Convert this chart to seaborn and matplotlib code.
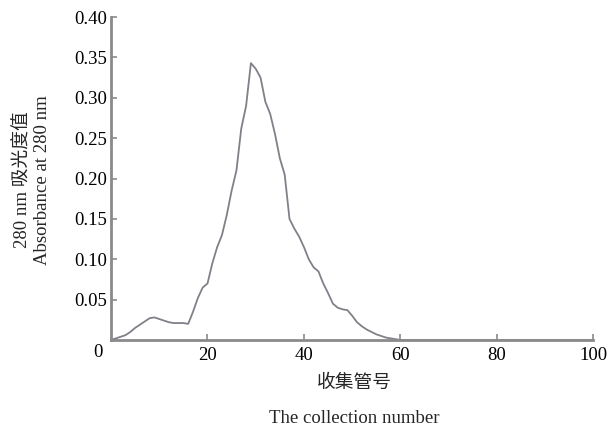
import numpy as np
import pandas as pd
import matplotlib
matplotlib.use('Agg')
import matplotlib.pyplot as plt
import matplotlib.transforms as mtransforms
import seaborn as sns

# Tube number and absorbance
tubes = list(range(0, 61)) + [100]
absorbance = [0.000, 0.002, 0.004, 0.006, 0.010, 0.015, 0.019, 0.023, 0.027, 0.028,
              0.026, 0.024, 0.022, 0.021, 0.021, 0.021, 0.020, 0.035, 0.052, 0.065,
              0.070, 0.095, 0.115, 0.130, 0.155, 0.185, 0.210, 0.262, 0.290, 0.343,
              0.336, 0.325, 0.295, 0.280, 0.255, 0.225, 0.205, 0.150, 0.138, 0.128,
              0.115, 0.100, 0.090, 0.085, 0.070, 0.058, 0.045, 0.040, 0.038, 0.037,
              0.030, 0.022, 0.017, 0.013, 0.010, 0.007, 0.005, 0.003, 0.002, 0.001,
              0.000, 0.000]
xticks = [20, 40, 60, 80, 100]
yticks = [0, 0.05, 0.10, 0.15, 0.20, 0.25, 0.30, 0.35, 0.40]
ytick_labels = ['0', '0.05', '0.10', '0.15', '0.20', '0.25', '0.30', '0.35', '0.40']

df = pd.DataFrame({'tube': tubes, 'abs': absorbance})

sns.set_style('ticks')
plt.rcParams['font.family'] = ['Liberation Serif', 'Noto Sans CJK SC']
fs = 13.5

fig = plt.figure(figsize=(6.08, 4.28), dpi=100)
ax = fig.add_axes([0.1826, 0.2056, 0.7934, 0.7544])

sns.lineplot(data=df, x='tube', y='abs', ax=ax, color='#808088', linewidth=1.3)

ax.set_xlim(0, 100)
ax.set_ylim(0, 0.40)
ax.set_xticks(xticks)
ax.set_yticks(yticks)
ax.set_yticklabels(ytick_labels)
ax.set_xlabel('')
ax.set_ylabel('')
sns.despine(ax=ax)
for s in ['left', 'bottom']:
    ax.spines[s].set_color('#8a8a8a')
    ax.spines[s].set_linewidth(2)
ax.tick_params(direction='in', length=4, width=1.2, color='#8a8a8a',
               labelsize=fs, labelcolor='black', pad=3)
ax.tick_params(axis='x', pad=5)

# origin label sits a bit lower and to the left
lab0 = ax.get_yticklabels()[0]
lab0.set_transform(lab0.get_transform() + mtransforms.ScaledTranslation(-0.04, -0.1, fig.dpi_scale_trans))

fig.text(0.054, 0.58, '280 nm 吸光度值\nAbsorbance at 280 nm', rotation=90,
         ha='center', va='center', fontsize=fs, linespacing=1.2)
fig.text(0.583, 0.105, '收集管号', ha='center', va='center', fontsize=fs)
fig.text(0.583, 0.023, 'The collection number', ha='center', va='center', fontsize=fs)

fig.savefig('out.png', dpi=100)
